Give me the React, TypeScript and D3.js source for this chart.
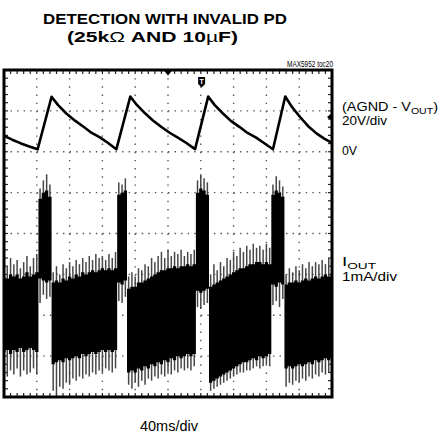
import React, { useEffect } from 'react';
import * as d3 from 'd3';

// Upper trace: (AGND - VOUT), 20V/div, breakpoints
const vTimeMs = [0, 10, 20, 30, 41, 58, 66, 76, 87, 97, 107, 117, 127, 137, 154, 162, 172, 182, 192, 202, 212, 222, 233, 249, 257, 267, 277, 287, 297, 307, 317, 328, 343, 351, 361, 371, 381, 391, 400];
const vVolts = [7.8, 5.9, 4.2, 2.7, 1.2, 26.9, 22.8, 18.7, 15.1, 12.2, 9.2, 7.0, 4.3, 1.2, 27.0, 22.9, 18.8, 15.2, 12.1, 9.3, 6.9, 4.4, 1.3, 27.0, 22.8, 18.7, 15.0, 12.2, 9.2, 7.0, 4.3, 1.2, 27.0, 22.0, 17.0, 12.5, 9.0, 6.3, 4.3];

// Lower trace: IOUT, 1mA/div, envelope every 4ms (spike extents + solid core)
const iStepMs = 4;
const iSpikeHi = [
  1.30, 1.20, 1.40, 1.25, 1.35, 1.15, 1.30, 1.45, 1.20, 1.40, 1.50,
  3.10, 3.30, 3.45, 3.20,
  1.05, 1.20, 1.00, 1.25, 1.15, 1.30, 1.20, 1.35, 1.25, 1.40, 1.30, 1.45, 1.35, 1.50, 1.40, 1.45, 1.35, 1.50, 1.40, 1.55,
  3.25, 3.20, 3.35,
  0.95, 1.05, 0.95, 1.15, 1.10, 1.25, 1.20, 1.40, 1.30, 1.45, 1.55, 1.40, 1.60, 1.45, 1.55, 1.50, 1.60, 1.45, 1.55, 1.50, 1.60,
  3.30, 3.45, 3.35, 3.25,
  1.00, 1.25, 1.10, 1.30, 1.20, 1.40, 1.35, 1.55, 1.45, 1.65, 1.55, 1.70, 1.60, 1.75, 1.65, 1.70, 1.60, 1.75, 1.65,
  3.20, 3.40, 3.30, 3.15,
  1.00, 1.15, 1.05, 1.20, 1.10, 1.25, 1.15, 1.30, 1.20, 1.30, 1.25, 1.35, 1.25, 1.40, 1.30,
];
const iCoreHi = [
  0.95, 0.90, 1.00, 0.95, 1.00, 0.90, 0.95, 1.05, 0.95, 1.00, 1.05,
  2.85, 3.00, 3.05, 2.90,
  0.80, 0.85, 0.80, 0.90, 0.85, 0.95, 0.90, 1.00, 0.95, 1.05, 1.00, 1.05, 1.10, 1.05, 1.10, 1.15, 1.10, 1.15, 1.10, 1.15,
  2.95, 3.00, 3.05,
  0.65, 0.70, 0.70, 0.80, 0.80, 0.85, 0.90, 0.95, 1.00, 1.05, 1.10, 1.10, 1.15, 1.15, 1.20, 1.15, 1.20, 1.20, 1.25, 1.20, 1.25,
  3.00, 3.10, 3.05, 2.95,
  0.70, 0.75, 0.80, 0.85, 0.90, 0.95, 1.00, 1.05, 1.10, 1.15, 1.15, 1.20, 1.25, 1.25, 1.30, 1.30, 1.25, 1.30, 1.25,
  2.95, 3.05, 3.00, 2.90,
  0.75, 0.80, 0.80, 0.85, 0.80, 0.85, 0.90, 0.85, 0.90, 0.95, 0.90, 0.95, 1.00, 0.95, 1.00,
];
const iCoreLo = [
  -0.90, -0.85, -0.95, -0.85, -0.90, -0.80, -0.90, -0.85, -0.80, -0.85, -0.90,
  0.90, 0.85, 0.80, 0.85,
  -1.20, -1.15, -1.10, -1.15, -1.05, -1.10, -1.05, -1.00, -1.05, -0.95, -1.00, -0.95, -0.90, -0.95, -0.90, -0.85, -0.90, -0.85, -0.90, -0.85,
  0.80, 0.75, 0.85,
  -1.40, -1.35, -1.40, -1.30, -1.35, -1.25, -1.30, -1.20, -1.25, -1.15, -1.20, -1.10, -1.15, -1.05, -1.10, -1.00, -1.05, -1.00, -0.95, -1.00, -0.95,
  0.60, 0.55, 0.60, 0.65,
  -1.65, -1.60, -1.55, -1.50, -1.45, -1.40, -1.35, -1.30, -1.25, -1.20, -1.15, -1.15, -1.10, -1.05, -1.10, -1.00, -1.05, -1.00, -0.95,
  0.75, 0.70, 0.80, 0.75,
  -1.30, -1.25, -1.30, -1.25, -1.20, -1.25, -1.20, -1.15, -1.20, -1.10, -1.15, -1.10, -1.05, -1.10, -1.05,
];
const iSpikeLo = [
  -1.40, -1.50, -1.35, -1.45, -1.30, -1.50, -1.35, -1.45, -1.40, -1.30, -1.45,
  0.30, 0.50, 0.40, 0.45,
  -1.85, -1.95, -1.75, -1.80, -1.65, -1.70, -1.55, -1.60, -1.50, -1.55, -1.45, -1.50, -1.40, -1.45, -1.35, -1.40, -1.30, -1.35, -1.40, -1.30,
  0.35, 0.30, 0.45,
  -1.70, -1.80, -1.65, -1.75, -1.60, -1.70, -1.55, -1.60, -1.50, -1.55, -1.45, -1.50, -1.40, -1.45, -1.35, -1.40, -1.30, -1.35, -1.30, -1.35, -1.25,
  0.20, 0.15, 0.25, 0.30,
  -1.85, -1.80, -1.75, -1.70, -1.65, -1.60, -1.55, -1.50, -1.45, -1.40, -1.40, -1.35, -1.35, -1.30, -1.25, -1.30, -1.25, -1.20, -1.25,
  0.25, 0.35, 0.20, 0.40,
  -1.75, -1.65, -1.70, -1.60, -1.65, -1.55, -1.60, -1.50, -1.55, -1.45, -1.50, -1.40, -1.45, -1.40, -1.35,
];

const trigTimeMs = 241;
const trigLevelV = 17;

const W = 444;
const H = 433;
const frame = { left: 4, right: 332, top: 70, bottom: 397 };
const sans = '"Liberation Sans", Arial, Helvetica, sans-serif';

const App: React.FC = () => {
  useEffect(() => {
    document.body.style.margin = '0';
  }, []);

  const x = d3.scaleLinear().domain([0, 400]).range([frame.left, frame.right]);
  const yV = d3.scaleLinear().domain([-120, 40]).range([frame.bottom, frame.top]);
  const yI = d3.scaleLinear().domain([-2, 6]).range([frame.bottom, frame.top]);

  const vLine = d3.line<number>()
    .x((_, i) => x(vTimeMs[i]))
    .y(d => yV(d));

  const iTimes = iCoreHi.map((_, i) => i * iStepMs);
  const core = d3.area<number>()
    .x((_, i) => x(iTimes[i]))
    .y0((_, i) => yI(iCoreLo[i]))
    .y1(d => yI(d))
    .curve(d3.curveStep);

  const xDiv = d3.range(1, 10).map(k => x(k * 40));
  const yDiv = d3.range(1, 8).map(k => yI(-2 + k));
  const dx = (x(40) - x(0)) / 5;
  const dy = (yI(0) - yI(1)) / 5;
  const xTicks = d3.range(1, 50).map(k => frame.left + k * dx);
  const yTicks = d3.range(1, 40).map(k => frame.top + k * dy);

  const tx = x(trigTimeMs);
  const ty = 82;
  const ly = yV(trigLevelV);

  return (
    <svg width={W} height={H} style={{ display: 'block', background: '#fff' }}>
      {/* title */}
      <text x={165} y={24} textAnchor="middle" fontFamily={sans} fontWeight="bold" fontSize={15.5}
        textLength={244} lengthAdjust="spacingAndGlyphs">DETECTION WITH INVALID PD</text>
      <text x={152.5} y={41.5} textAnchor="middle" fontFamily={sans} fontWeight="bold" fontSize={15.5}
        textLength={171} lengthAdjust="spacingAndGlyphs">(25k<tspan fontWeight="normal">Ω</tspan> AND 10<tspan fontWeight="normal">µ</tspan>F)</text>
      <text x={333} y={66.5} textAnchor="end" fontFamily={sans} fontSize={9}
        textLength={46} lengthAdjust="spacingAndGlyphs">MAX5952 toc20</text>

      {/* dotted graticule */}
      <g stroke="#555" strokeWidth={1.4}>
        {xDiv.map((gx, i) => (
          <line key={'gx' + i} x1={gx} x2={gx} y1={frame.top + dy} y2={frame.bottom - 1}
            strokeDasharray={`1.4 ${dy - 1.4}`} />
        ))}
        {yDiv.map((gy, i) => (
          <line key={'gy' + i} x1={frame.left + dx} x2={frame.right - 1} y1={gy} y2={gy}
            strokeDasharray={`1.4 ${dx - 1.4}`} />
        ))}
      </g>
      <g stroke="#222" strokeWidth={1.2}>
        {xTicks.map((t, i) => (
          <g key={'tx' + i}>
            <line x1={t} x2={t} y1={frame.top} y2={frame.top + 4} />
            <line x1={t} x2={t} y1={frame.bottom} y2={frame.bottom - 4} />
          </g>
        ))}
        {yTicks.map((t, i) => (
          <g key={'ty' + i}>
            <line x1={frame.left} x2={frame.left + 4} y1={t} y2={t} />
            <line x1={frame.right} x2={frame.right - 4} y1={t} y2={t} />
          </g>
        ))}
      </g>

      {/* IOUT noise band */}
      <g stroke="#474747" strokeWidth={1.5}>
        {iTimes.map((t, i) => (
          <line key={'sp' + i} x1={x(t)} x2={x(t)} y1={yI(iSpikeLo[i])} y2={yI(iSpikeHi[i])} />
        ))}
      </g>
      <path d={core(iCoreHi) || ''} fill="#000" />

      {/* voltage trace */}
      <path d={vLine(vVolts) || ''} fill="none" stroke="#000" strokeWidth={2.6} strokeLinejoin="round" />

      {/* frame */}
      <rect x={frame.left} y={frame.top} width={frame.right - frame.left} height={frame.bottom - frame.top}
        fill="none" stroke="#000" strokeWidth={3} />

      {/* markers */}
      <path d={`M${x(200) - 4.5},${frame.top} L${x(200) + 4.5},${frame.top} L${x(200)},${frame.top + 5.5} Z`} fill="#000" />
      <path d={`M${tx - 3.5},${ty - 5} h7 v7 l-3.5,3.5 l-3.5,-3.5 Z`} fill="#000" />
      <text x={tx} y={ty + 1.5} textAnchor="middle" fontFamily={sans} fontWeight="bold" fontSize={7} fill="#fff">T</text>
      <path d={`M${frame.right},${ly - 4} L${frame.right - 5},${ly} L${frame.right},${ly + 4} Z`} fill="#000" />

      {/* channel labels */}
      <g fontFamily={sans} fontSize={13} fill="#000">
        <text x={342} y={111} textLength={96} lengthAdjust="spacingAndGlyphs">(AGND - V<tspan fontSize={9.5} dy={2.5}>OUT</tspan><tspan dy={-2.5}>)</tspan></text>
        <text x={342} y={125} textLength={45} lengthAdjust="spacingAndGlyphs">20V/div</text>
        <text x={342} y={155} textLength={15} lengthAdjust="spacingAndGlyphs">0V</text>
        <text x={342} y={266} textLength={34} lengthAdjust="spacingAndGlyphs">I<tspan fontSize={9.5} dy={2.5}>OUT</tspan></text>
        <text x={342} y={281} textLength={55} lengthAdjust="spacingAndGlyphs">1mA/div</text>
      </g>
      <text x={169} y={430.5} textAnchor="middle" fontFamily={sans} fontSize={15}
        textLength={58} lengthAdjust="spacingAndGlyphs">40ms/div</text>
    </svg>
  );
};

export default App;
